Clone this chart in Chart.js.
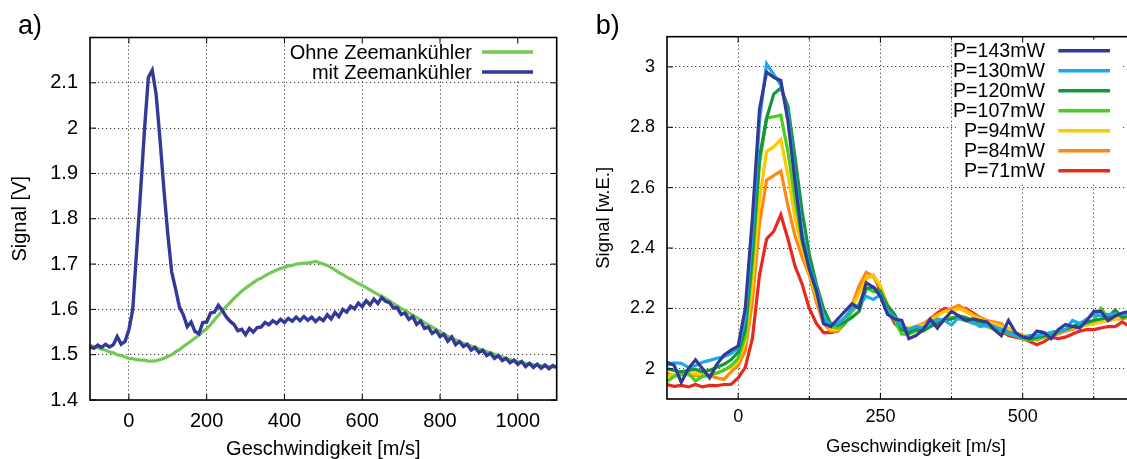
<!DOCTYPE html>
<html>
<head>
<meta charset="utf-8">
<script src="https://cdn.jsdelivr.net/npm/chart.js@4.4.1/dist/chart.umd.min.js"></script>
<style>
  html, body { margin: 0; padding: 0; background: #fff; }
  body { width: 1127px; height: 459px; overflow: hidden; position: relative; }
  canvas { position: absolute; top: 0; }
  #chart-a { left: 0; }
  #chart-b { left: 577px; }
</style>
</head>
<body>
<canvas id="chart-a" width="570" height="470"></canvas>
<canvas id="chart-b" width="610" height="470"></canvas>
<script>
// --- Panel a: Signal [V] mit / ohne Zeemankühler ---
const velA = [
  -100, -90, -80, -70, -60, -50, -40, -30, -20, -10,
  0, 10, 20, 30, 40, 50, 60, 70, 80, 90,
  100, 110, 120, 130, 140, 150, 160, 170, 180, 190,
  200, 210, 220, 230, 240, 250, 260, 270, 280, 290,
  300, 310, 320, 330, 340, 350, 360, 370, 380, 390,
  400, 410, 420, 430, 440, 450, 460, 470, 480, 490,
  500, 510, 520, 530, 540, 550, 560, 570, 580, 590,
  600, 610, 620, 630, 640, 650, 660, 670, 680, 690,
  700, 710, 720, 730, 740, 750, 760, 770, 780, 790,
  800, 810, 820, 830, 840, 850, 860, 870, 880, 890,
  900, 910, 920, 930, 940, 950, 960, 970, 980, 990,
  1000, 1010, 1020, 1030, 1040, 1050, 1060, 1070, 1080, 1090,
  1100
];
const ohneZeeman = [
  1.521, 1.518, 1.516, 1.512, 1.510, 1.506, 1.504, 1.500, 1.498, 1.495,
  1.492, 1.491, 1.489, 1.488, 1.488, 1.486, 1.486, 1.487, 1.489, 1.492,
  1.496, 1.500, 1.506, 1.511, 1.518, 1.524, 1.530, 1.537, 1.543, 1.551,
  1.557, 1.566, 1.577, 1.587, 1.597, 1.606, 1.615, 1.624, 1.632, 1.640,
  1.647, 1.653, 1.659, 1.665, 1.669, 1.674, 1.679, 1.683, 1.687, 1.690,
  1.693, 1.696, 1.697, 1.700, 1.701, 1.702, 1.702, 1.704, 1.706, 1.703,
  1.700, 1.697, 1.692, 1.687, 1.681, 1.677, 1.671, 1.667, 1.662, 1.657,
  1.653, 1.648, 1.643, 1.638, 1.633, 1.629, 1.624, 1.619, 1.613, 1.608,
  1.602, 1.597, 1.592, 1.587, 1.582, 1.576, 1.571, 1.566, 1.561, 1.556,
  1.551, 1.546, 1.541, 1.537, 1.533, 1.529, 1.525, 1.522, 1.519, 1.516,
  1.513, 1.510, 1.507, 1.504, 1.501, 1.498, 1.495, 1.492, 1.489, 1.487,
  1.485, 1.483, 1.481, 1.480, 1.478, 1.477, 1.476, 1.475, 1.474, 1.473,
  1.472
];
const mitZeeman = [
  1.518, 1.514, 1.521, 1.516, 1.523, 1.517, 1.522, 1.540, 1.523, 1.529,
  1.555, 1.600, 1.730, 1.860, 1.995, 2.112, 2.128, 2.075, 1.975, 1.865,
  1.766, 1.683, 1.645, 1.605, 1.588, 1.562, 1.572, 1.551, 1.546, 1.571,
  1.572, 1.592, 1.594, 1.609, 1.598, 1.584, 1.574, 1.567, 1.553, 1.556,
  1.544, 1.558, 1.550, 1.560, 1.561, 1.571, 1.566, 1.575, 1.569, 1.578,
  1.571, 1.580, 1.574, 1.583, 1.575, 1.584, 1.576, 1.583, 1.573, 1.581,
  1.575, 1.588, 1.579, 1.593, 1.584, 1.600, 1.594, 1.607, 1.601, 1.614,
  1.606, 1.619, 1.610, 1.623, 1.613, 1.626, 1.618, 1.615, 1.603, 1.604,
  1.589, 1.592, 1.578, 1.584, 1.567, 1.574, 1.558, 1.561, 1.547, 1.553,
  1.540, 1.545, 1.530, 1.539, 1.522, 1.529, 1.518, 1.523, 1.510, 1.516,
  1.505, 1.510, 1.498, 1.503, 1.492, 1.498, 1.487, 1.492, 1.482, 1.488,
  1.479, 1.485, 1.474, 1.481, 1.472, 1.479, 1.470, 1.477, 1.469, 1.476,
  1.472
];
const xTicksA = [0, 200, 400, 600, 800, 1000];
const yTicksA = [1.4, 1.5, 1.6, 1.7, 1.8, 1.9, 2, 2.1];

// --- Panel b: Signal [w.E.] bei verschiedenen Leistungen ---
const velB = [
  -125, -112.5, -100, -87.5, -75, -62.5, -50, -37.5, -25, -12.5,
  0, 12.5, 25, 37.5, 50, 62.5, 75, 87.5, 100, 112.5,
  125, 137.5, 150, 162.5, 175, 187.5, 200, 212.5, 225, 237.5,
  250, 262.5, 275, 287.5, 300, 312.5, 325, 337.5, 350, 362.5,
  375, 387.5, 400, 412.5, 425, 437.5, 450, 462.5, 475, 487.5,
  500, 512.5, 525, 537.5, 550, 562.5, 575, 587.5, 600, 612.5,
  625, 637.5, 650, 662.5, 675, 687.5, 700
];
const p143 = [
  2.022, 2.012, 1.955, 2.000, 2.030, 2.000, 1.970, 2.015, 2.045, 2.062,
  2.075, 2.200, 2.500, 2.860, 2.983, 2.965, 2.955, 2.820, 2.620, 2.430,
  2.330, 2.260, 2.150, 2.140, 2.165, 2.190, 2.215, 2.200, 2.285, 2.270,
  2.240, 2.180, 2.165, 2.160, 2.100, 2.110, 2.130, 2.165, 2.135, 2.165,
  2.190, 2.175, 2.160, 2.165, 2.160, 2.155, 2.130, 2.110, 2.160, 2.120,
  2.105, 2.100, 2.125, 2.120, 2.100, 2.130, 2.147, 2.140, 2.135, 2.160,
  2.190, 2.190, 2.160, 2.175, 2.185, 2.190, 2.190
];
const p130 = [
  2.012, 2.020, 2.018, 2.005, 2.010, 2.022, 2.028, 2.035, 2.040, 2.050,
  2.070, 2.170, 2.450, 2.820, 3.010, 2.975, 2.940, 2.840, 2.640, 2.450,
  2.340, 2.270, 2.170, 2.145, 2.150, 2.170, 2.200, 2.210, 2.240, 2.230,
  2.245, 2.190, 2.170, 2.140, 2.130, 2.140, 2.135, 2.150, 2.165, 2.160,
  2.145, 2.170, 2.160, 2.155, 2.140, 2.145, 2.140, 2.130, 2.120, 2.110,
  2.105, 2.110, 2.110, 2.115, 2.120, 2.125, 2.130, 2.160, 2.150, 2.165,
  2.180, 2.175, 2.180, 2.180, 2.180, 2.180, 2.185
];
const p120 = [
  2.000, 1.995, 1.990, 1.995, 1.998, 1.990, 1.995, 2.005, 2.015, 2.030,
  2.055, 2.130, 2.380, 2.700, 2.830, 2.910, 2.930, 2.870, 2.700, 2.520,
  2.380, 2.280, 2.200, 2.150, 2.145, 2.155, 2.170, 2.190, 2.265, 2.270,
  2.255, 2.210, 2.180, 2.130, 2.120, 2.130, 2.125, 2.140, 2.150, 2.160,
  2.165, 2.175, 2.170, 2.160, 2.155, 2.150, 2.135, 2.130, 2.120, 2.115,
  2.105, 2.100, 2.105, 2.110, 2.120, 2.125, 2.130, 2.140, 2.150, 2.155,
  2.160, 2.165, 2.170, 2.195, 2.170, 2.175, 2.180
];
const p107 = [
  1.958, 1.975, 1.980, 1.985, 1.960, 1.975, 1.980, 1.985, 1.995, 2.010,
  2.035, 2.110, 2.350, 2.680, 2.830, 2.835, 2.840, 2.720, 2.560, 2.420,
  2.330, 2.250, 2.170, 2.140, 2.135, 2.150, 2.190, 2.215, 2.270, 2.255,
  2.260, 2.200, 2.160, 2.115, 2.115, 2.125, 2.130, 2.140, 2.155, 2.165,
  2.170, 2.165, 2.160, 2.150, 2.145, 2.140, 2.130, 2.125, 2.115, 2.110,
  2.100, 2.095, 2.100, 2.105, 2.110, 2.120, 2.130, 2.140, 2.145, 2.150,
  2.160, 2.200, 2.170, 2.180, 2.175, 2.180, 2.185
];
const p94 = [
  1.975, 1.980, 1.985, 1.982, 1.985, 1.980, 1.982, 1.988, 1.995, 2.005,
  2.025, 2.090, 2.280, 2.560, 2.720, 2.735, 2.760, 2.640, 2.500, 2.400,
  2.320, 2.240, 2.160, 2.130, 2.130, 2.160, 2.200, 2.250, 2.300, 2.310,
  2.275, 2.210, 2.170, 2.140, 2.135, 2.140, 2.145, 2.160, 2.175, 2.190,
  2.190, 2.200, 2.190, 2.175, 2.165, 2.155, 2.150, 2.140, 2.135, 2.120,
  2.110, 2.105, 2.100, 2.105, 2.110, 2.120, 2.130, 2.135, 2.140, 2.145,
  2.150, 2.155, 2.160, 2.165, 2.170, 2.170, 2.175
];
const p84 = [
  1.985, 1.978, 1.982, 1.980, 1.978, 1.975, 1.978, 1.970, 1.965, 1.990,
  2.010, 2.060, 2.220, 2.480, 2.625, 2.640, 2.655, 2.540, 2.440, 2.370,
  2.310, 2.220, 2.150, 2.125, 2.125, 2.155, 2.210, 2.275, 2.320, 2.305,
  2.270, 2.210, 2.170, 2.135, 2.130, 2.140, 2.150, 2.165, 2.180, 2.190,
  2.200, 2.210, 2.195, 2.180, 2.170, 2.160, 2.155, 2.150, 2.120, 2.115,
  2.110, 2.100, 2.095, 2.105, 2.110, 2.115, 2.125, 2.130, 2.140, 2.145,
  2.150, 2.155, 2.160, 2.165, 2.165, 2.170, 2.170
];
const p71 = [
  1.948, 1.942, 1.945, 1.940, 1.948, 1.940, 1.945, 1.944, 1.948, 1.948,
  1.970, 2.005, 2.100, 2.310, 2.430, 2.455, 2.510, 2.430, 2.340, 2.280,
  2.200, 2.150, 2.120, 2.120, 2.125, 2.150, 2.200, 2.260, 2.300, 2.310,
  2.260, 2.200, 2.150, 2.130, 2.125, 2.130, 2.145, 2.165, 2.185, 2.200,
  2.195, 2.200, 2.200, 2.185, 2.170, 2.155, 2.140, 2.125, 2.110, 2.105,
  2.100, 2.090, 2.080, 2.090, 2.105, 2.100, 2.105, 2.115, 2.125, 2.130,
  2.130, 2.135, 2.140, 2.140, 2.155, 2.140, 2.150
];
const xTicksB = [0, 125, 250, 375, 500, 625, 750];
const yTicksB = [2, 2.2, 2.4, 2.6, 2.8, 3];

const FONT = '"Liberation Sans", Arial, Helvetica, sans-serif';
Chart.defaults.font.family = FONT;
Chart.defaults.color = '#000';

function punkte(xs, ys) {
    return xs.map((x, i) => ({ x: x, y: ys[i] }));
}

// Rahmen mit nach innen zeigenden Ticks (wie gnuplot)
const rahmenPlugin = {
    id: 'rahmen',
    afterDraw(chart) {
        const { ctx, chartArea: a, scales: { x, y } } = chart;
        ctx.save();
        ctx.strokeStyle = '#000';
        ctx.lineWidth = 1;
        ctx.beginPath();
        x.ticks.forEach(t => {
            const px = x.getPixelForValue(t.value);
            const len = t.label ? 6 : 3;
            ctx.moveTo(px, a.bottom); ctx.lineTo(px, a.bottom - len);
            ctx.moveTo(px, a.top); ctx.lineTo(px, a.top + len);
        });
        y.ticks.forEach(t => {
            const py = y.getPixelForValue(t.value);
            ctx.moveTo(a.left, py); ctx.lineTo(a.left + 6, py);
            ctx.moveTo(a.right, py); ctx.lineTo(a.right - 6, py);
        });
        ctx.stroke();
        ctx.lineWidth = 1.6;
        ctx.strokeRect(a.left, a.top, a.right - a.left, a.bottom - a.top);
        const lab = chart.options.plugins.rahmen;
        if (lab && lab.text) {
            ctx.font = `27px ${FONT}`;
            ctx.fillStyle = '#000';
            ctx.textAlign = 'left';
            ctx.textBaseline = 'alphabetic';
            ctx.fillText(lab.text, lab.x, lab.y);
        }
        ctx.restore();
    }
};

// Legende: Text rechtsbündig, Linienmuster rechts daneben
const keyPlugin = {
    id: 'gnuKey',
    afterDatasetsDraw(chart, args, o) {
        const ctx = chart.ctx;
        ctx.save();
        if (o.box) {
            ctx.fillStyle = '#fff';
            ctx.fillRect(o.box[0], o.box[1], o.box[2] - o.box[0], o.box[3] - o.box[1]);
        }
        ctx.font = `${o.fontSize}px ${FONT}`;
        ctx.textAlign = 'right';
        ctx.textBaseline = 'middle';
        chart.data.datasets.forEach((ds, i) => {
            const yy = o.top + i * o.rowGap;
            ctx.fillStyle = '#000';
            ctx.fillText(ds.label, o.textRight, yy + 1);
            ctx.strokeStyle = ds.borderColor;
            ctx.lineWidth = o.lineWidth;
            ctx.beginPath();
            ctx.moveTo(o.lineFrom, yy);
            ctx.lineTo(o.lineTo, yy);
            ctx.stroke();
        });
        ctx.restore();
    }
};

function achse(cfg) {
    return {
        type: 'linear',
        min: cfg.min,
        max: cfg.max,
        afterBuildTicks: s => { s.ticks = cfg.ticks.map(v => ({ value: v })); },
        afterFit: s => { if (cfg.width) s.width = cfg.width; if (cfg.height) s.height = cfg.height; },
        ticks: {
            autoSkip: false,
            maxRotation: 0,
            padding: cfg.padding,
            font: { size: cfg.fontSize },
            color: '#000',
            callback: cfg.label || (v => String(v))
        },
        grid: { color: 'rgba(0,0,0,0.75)', lineWidth: 1, drawTicks: false },
        border: { display: false, dash: [1.2, 2.8] },
        title: {
            display: true,
            text: cfg.title,
            color: '#000',
            font: { size: cfg.titleSize },
            padding: cfg.titlePadding
        }
    };
}

function linie(label, xs, ys, farbe, breite, order) {
    return {
        label: label,
        data: punkte(xs, ys),
        borderColor: farbe,
        backgroundColor: farbe,
        borderWidth: breite,
        pointRadius: 0,
        tension: 0,
        order: order
    };
}

new Chart(document.getElementById('chart-a'), {
    type: 'line',
    data: {
        datasets: [
            linie('Ohne Zeemankühler', velA, ohneZeeman, '#72c954', 3.2, 1),
            linie('mit Zeemankühler', velA, mitZeeman, '#343896', 3.4, 0)
        ]
    },
    options: {
        responsive: false,
        animation: false,
        devicePixelRatio: 1,
        layout: { padding: { left: 0, right: 13.3, top: 37.5, bottom: 0 } },
        scales: {
            x: achse({ min: -100, max: 1100, ticks: xTicksA, height: 70, padding: 9, fontSize: 20,
                       title: 'Geschwindigkeit [m/s]', titleSize: 20, titlePadding: { top: 0, bottom: 9 } }),
            y: achse({ min: 1.4, max: 2.2, ticks: yTicksA, width: 90, padding: 12, fontSize: 20,
                       title: 'Signal [V]', titleSize: 20, titlePadding: { top: 8, bottom: 0 } })
        },
        plugins: {
            legend: { display: false },
            tooltip: { enabled: false },
            rahmen: { text: 'a)', x: 18, y: 34 },
            gnuKey: { box: [287, 38.5, 545, 80], fontSize: 20, top: 52, rowGap: 20,
                      textRight: 472, lineFrom: 482, lineTo: 533, lineWidth: 3.4 }
        }
    },
    plugins: [keyPlugin, rahmenPlugin]
});

new Chart(document.getElementById('chart-b'), {
    type: 'line',
    data: {
        datasets: [
            linie('P=143mW', velB, p143, '#353996', 3.2),
            linie('P=130mW', velB, p130, '#1ca8ee', 3.2),
            linie('P=120mW', velB, p120, '#14963e', 3.2),
            linie('P=107mW', velB, p107, '#46cf1e', 3.2),
            linie('P=94mW', velB, p94, '#ffc800', 3.2),
            linie('P=84mW', velB, p84, '#ff8812', 3.2),
            linie('P=71mW', velB, p71, '#e62a1e', 3.2)
        ]
    },
    options: {
        responsive: false,
        animation: false,
        devicePixelRatio: 1,
        layout: { padding: { left: 0, right: 16.9, top: 36.7, bottom: 0 } },
        scales: {
            x: achse({ min: -125, max: 750, ticks: xTicksB, height: 71, padding: 7, fontSize: 18,
                       label: v => (v % 250 === 0 ? String(v) : ''),
                       title: 'Geschwindigkeit [m/s]', titleSize: 18.5, titlePadding: { top: 0, bottom: 12 } }),
            y: achse({ min: 1.9, max: 3.1, ticks: yTicksB, width: 90, padding: 12, fontSize: 18,
                       title: 'Signal [w.E.]', titleSize: 18.5, titlePadding: { top: 16, bottom: 0 } })
        },
        plugins: {
            legend: { display: false },
            tooltip: { enabled: false },
            rahmen: { text: 'b)', x: 18.7, y: 34 },
            gnuKey: { box: [379, 37.5, 546, 182], fontSize: 19.6, top: 50.7, rowGap: 20,
                      textRight: 468, lineFrom: 481.3, lineTo: 533, lineWidth: 3.4 }
        }
    },
    plugins: [keyPlugin, rahmenPlugin]
});
</script>
</body>
</html>
